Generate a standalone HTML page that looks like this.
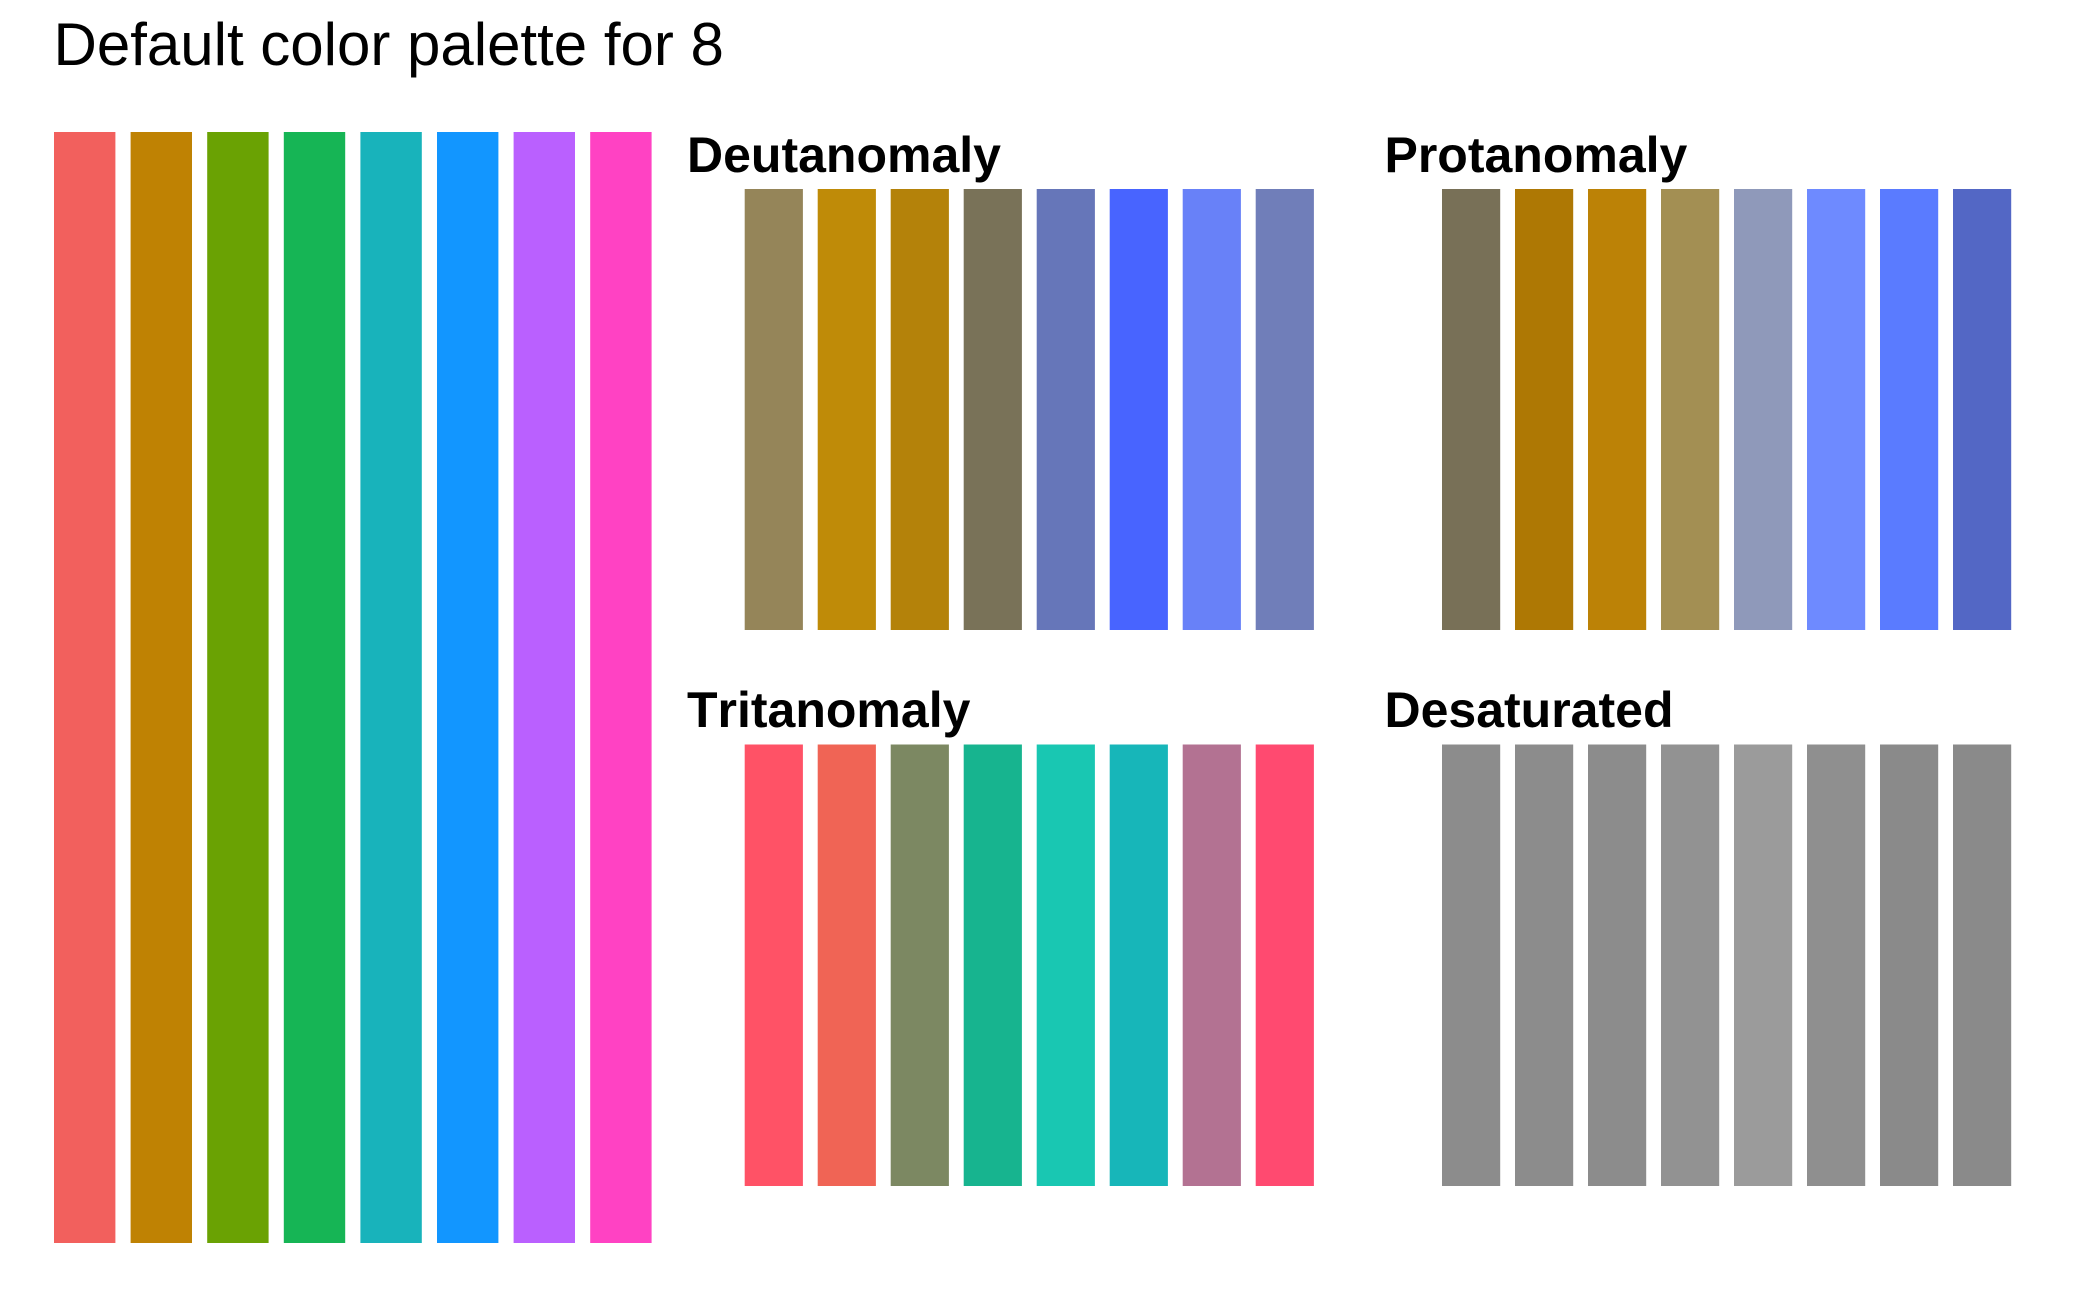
<!DOCTYPE html>
<html lang="en">
<head>
<meta charset="utf-8">
<title>Default color palette for 8</title>
<style>
  html, body { margin: 0; padding: 0; background: #ffffff; }
  svg { display: block; }
  text { font-family: "Liberation Sans", sans-serif; fill: #000000; }
  .plot-title { font-size: 60px; }
  .panel-title { font-size: 50px; font-weight: bold; font-kerning: none; }
</style>
</head>
<body>
<svg id="chart" xmlns="http://www.w3.org/2000/svg" width="2100" height="1297" viewBox="0 0 2100 1297">
  <rect x="0" y="0" width="2100" height="1297" fill="#ffffff"/>
  <text class="plot-title" x="53.5" y="65">Default color palette for 8</text>
  <text class="panel-title" x="687" y="172">Deutanomaly</text>
  <text class="panel-title" x="1384.5" y="172">Protanomaly</text>
  <text class="panel-title" x="687" y="727">Tritanomaly</text>
  <text class="panel-title" x="1384.5" y="727">Desaturated</text>
  <g id="bars"></g>
</svg>
<script>
const categories = [1, 2, 3, 4, 5, 6, 7, 8];

const originalValues = [1, 1, 1, 1, 1, 1, 1, 1];
const deutanomalyValues = [1, 1, 1, 1, 1, 1, 1, 1];
const protanomalyValues = [1, 1, 1, 1, 1, 1, 1, 1];
const tritanomalyValues = [1, 1, 1, 1, 1, 1, 1, 1];
const desaturatedValues = [1, 1, 1, 1, 1, 1, 1, 1];

const originalColors = ['#F2605D', '#BF8203', '#6AA203', '#16B555', '#18B3BB', '#1296FF', '#BA60FF', '#FF42C3'];
const deutanomalyColors = ['#958559', '#BF8B08', '#B4820A', '#797258', '#6676B9', '#4864FF', '#6881F8', '#707EB9'];
const protanomalyColors = ['#787057', '#AE7804', '#BC8206', '#A38F53', '#8F99BA', '#6E8AFF', '#5A7BFF', '#5367C5'];
const tritanomalyColors = ['#FF5266', '#F06455', '#7C8862', '#17B48F', '#19C7B2', '#17B6B9', '#B37292', '#FF4A70'];
const desaturatedColors = ['#8C8C8C', '#8C8C8C', '#8C8C8C', '#929292', '#9B9B9B', '#8F8F8F', '#8A8A8A', '#8A8A8A'];

const SVG_NS = 'http://www.w3.org/2000/svg';
const layer = document.getElementById('bars');

function makeBandScale(left, step) {
  return function (category) {
    return left + (category - 1) * step;
  };
}

function makeValueScale(bottom, top) {
  return function (value) {
    return bottom + (top - bottom) * value;
  };
}

function drawPanel(panelName, values, colors, left, step, barWidth, top, bottom) {
  const xScale = makeBandScale(left, step);
  const yScale = makeValueScale(bottom, top);
  categories.forEach(function (category, i) {
    const rect = document.createElementNS(SVG_NS, 'rect');
    const y = yScale(values[i]);
    rect.setAttribute('x', xScale(category));
    rect.setAttribute('y', Math.min(y, yScale(0)));
    rect.setAttribute('width', barWidth);
    rect.setAttribute('height', Math.abs(yScale(0) - y));
    rect.setAttribute('fill', colors[i]);
    
    
    layer.appendChild(rect);
  });
}

drawPanel('original', originalValues, originalColors, 54, 76.6, 61.4, 132, 1243);
drawPanel('deutanomaly', deutanomalyValues, deutanomalyColors, 744.7, 73, 58.2, 189, 630);
drawPanel('protanomaly', protanomalyValues, protanomalyColors, 1442, 73, 58.2, 189, 630);
drawPanel('tritanomaly', tritanomalyValues, tritanomalyColors, 744.7, 73, 58.2, 744.5, 1186);
drawPanel('desaturated', desaturatedValues, desaturatedColors, 1442, 73, 58.2, 744.5, 1186);
</script>
</body>
</html>
